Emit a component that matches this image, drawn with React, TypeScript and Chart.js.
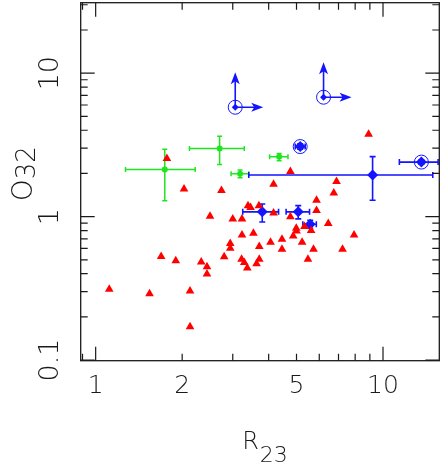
import React, { useEffect, useRef } from "react";
import { Chart, registerables } from "chart.js";

Chart.register(...registerables);

// ---------- axis setup ----------
const X_MIN = 0.887;
const X_MAX = 15.7;
const Y_MIN = 0.099;
const Y_MAX = 31;

const xTickValues = [1, 2, 5, 10];
const xTickLabels = ["1", "2", "5", "10"];
const xMajorTicks = [1, 10];
const xMinorTicks = [0.9, 2, 3, 4, 5, 6, 7, 8, 9];

const yTickValues = [0.1, 1, 10];
const yTickLabels = ["0.1", "1", "10"];
const yMajorTicks = [0.1, 1, 10];
const yMinorTicks = [0.2, 0.3, 0.4, 0.5, 0.6, 0.7, 0.8, 0.9, 2, 3, 4, 5, 6, 7, 8, 9, 20, 30];

const xTitleMain = "R";
const xTitleSub = "23";
const yTitleMain = "O";
const yTitleSub = "32";

// ---------- data ----------
// red triangles
const redR23 = [8.91, 1.77, 4.76, 6.89, 4.16, 2.03, 2.74, 6.74, 5.87, 3.39, 3.46, 3.70, 5.87, 4.16, 2.50, 4.76, 3.00, 3.23, 6.45, 4.99, 5.00, 5.62, 5.33, 4.87, 5.23, 4.45, 4.06, 3.71, 3.54, 3.23, 2.94, 2.94, 2.80, 3.22, 3.29, 3.37, 3.63, 3.71, 2.33, 2.44, 2.44, 2.13, 2.13, 1.69, 1.90, 1.115, 1.54, 4.45, 5.73, 7.23, 7.93, 5.48];
const redO32 = [3.75, 2.54, 2.06, 1.76, 1.68, 1.56, 1.52, 1.46, 1.30, 1.19, 1.16, 1.19, 1.105, 1.06, 1.006, 1.0, 0.961, 0.961, 0.897, 0.831, 0.795, 0.801, 0.852, 0.734, 0.663, 0.696, 0.664, 0.620, 0.766, 0.746, 0.650, 0.602, 0.526, 0.505, 0.479, 0.439, 0.469, 0.505, 0.482, 0.447, 0.398, 0.303, 0.171, 0.528, 0.493, 0.312, 0.290, 0.592, 0.592, 0.592, 0.746, 0.505];

// green points with error bars
const greenR23 = [1.74, 2.70, 3.18, 4.35];
const greenR23Lo = [1.27, 2.12, 2.96, 4.03];
const greenR23Hi = [2.22, 3.29, 3.41, 4.67];
const greenO32 = [2.13, 2.98, 1.99, 2.61];
const greenO32Lo = [1.29, 2.31, 1.87, 2.45];
const greenO32Hi = [2.95, 3.64, 2.11, 2.75];

// blue diamonds with error bars
const blueR23 = [9.20, 13.6, 5.15, 3.80, 5.07, 5.58];
const blueR23Lo = [3.41, 11.4, 4.95, 3.25, 4.60, 5.26];
const blueR23Hi = [14.9, 15.55, 5.36, 4.33, 5.55, 5.86];
const blueO32 = [1.95, 2.40, 3.08, 1.08, 1.08, 0.885];
const blueO32Lo = [1.30, 2.32, 2.95, 0.918, 0.964, 0.83];
const blueO32Hi = [2.62, 2.48, 3.22, 1.226, 1.193, 0.944];

// circled objects
const circledR23 = [13.6, 5.15, 3.06, 6.21];
const circledO32 = [2.40, 3.08, 5.79, 6.80];

// lower limits (arrows up and right)
const limitR23 = [3.06, 6.21];
const limitO32 = [5.79, 6.80];

// ---------- styles ----------
const RED = "#ff0000";
const GREEN = "#1ee61e";
const BLUE = "#1414ff";
const INK = "#1a1a1a";
const FONT = "'DejaVu Sans', 'Liberation Sans', sans-serif";

const toPts = (xs: number[], ys: number[]) => xs.map((v, i) => ({ x: v, y: ys[i] }));

function drawErrorBars(
  chart: any,
  xs: number[], ys: number[],
  xlo: number[], xhi: number[], ylo: number[], yhi: number[],
  color: string, lw: number, cap: number
) {
  const { ctx, scales, chartArea } = chart;
  const sx = scales.x, sy = scales.y;
  ctx.save();
  ctx.beginPath();
  ctx.rect(chartArea.left, chartArea.top, chartArea.right - chartArea.left, chartArea.bottom - chartArea.top);
  ctx.clip();
  ctx.strokeStyle = color;
  ctx.lineWidth = lw;
  ctx.beginPath();
  for (let i = 0; i < xs.length; i++) {
    const cx = sx.getPixelForValue(xs[i]);
    const cy = sy.getPixelForValue(ys[i]);
    const l = sx.getPixelForValue(xlo[i]);
    const r = sx.getPixelForValue(xhi[i]);
    const t = sy.getPixelForValue(yhi[i]);
    const b = sy.getPixelForValue(ylo[i]);
    ctx.moveTo(l, cy); ctx.lineTo(r, cy);
    ctx.moveTo(l, cy - cap); ctx.lineTo(l, cy + cap);
    ctx.moveTo(r, cy - cap); ctx.lineTo(r, cy + cap);
    ctx.moveTo(cx, t); ctx.lineTo(cx, b);
    ctx.moveTo(cx - cap, t); ctx.lineTo(cx + cap, t);
    ctx.moveTo(cx - cap, b); ctx.lineTo(cx + cap, b);
  }
  ctx.stroke();
  ctx.restore();
}

function arrowHead(ctx: any, tx: number, ty: number, dx: number, dy: number, len: number, half: number, notch: number) {
  const px = -dy, py = dx;
  const bx = tx - dx * len, by = ty - dy * len;
  ctx.beginPath();
  ctx.moveTo(tx, ty);
  ctx.lineTo(bx + px * half, by + py * half);
  ctx.lineTo(tx - dx * (len - notch), ty - dy * (len - notch));
  ctx.lineTo(bx - px * half, by - py * half);
  ctx.closePath();
  ctx.fill();
}

const errorBarPlugin = {
  id: "errorBars",
  beforeDatasetsDraw(chart: any) {
    drawErrorBars(chart, greenR23, greenO32, greenR23Lo, greenR23Hi, greenO32Lo, greenO32Hi, GREEN, 1.5, 2.5);
    drawErrorBars(chart, blueR23, blueO32, blueR23Lo, blueR23Hi, blueO32Lo, blueO32Hi, BLUE, 1.6, 3);
  },
};

const arrowPlugin = {
  id: "limitArrows",
  afterDatasetsDraw(chart: any) {
    const { ctx, scales } = chart;
    ctx.save();
    ctx.strokeStyle = BLUE;
    ctx.fillStyle = BLUE;
    ctx.lineWidth = 1.6;
    for (let i = 0; i < limitR23.length; i++) {
      const cx = scales.x.getPixelForValue(limitR23[i]);
      const cy = scales.y.getPixelForValue(limitO32[i]);
      const up = 35, right = 28;
      ctx.beginPath();
      ctx.moveTo(cx, cy); ctx.lineTo(cx, cy - up + 6);
      ctx.moveTo(cx, cy); ctx.lineTo(cx + right - 6, cy);
      ctx.stroke();
      arrowHead(ctx, cx, cy - up, 0, -1, 12, 4.5, 3);
      arrowHead(ctx, cx + right, cy, 1, 0, 12, 4.5, 3);
    }
    ctx.restore();
  },
};

const framePlugin = {
  id: "frameTicks",
  afterDatasetsDraw(chart: any) {
    const { ctx, chartArea: ca, scales } = chart;
    const sx = scales.x, sy = scales.y;
    ctx.save();
    ctx.strokeStyle = INK;
    ctx.lineWidth = 1.3;
    ctx.strokeRect(ca.left, ca.top, ca.right - ca.left, ca.bottom - ca.top);
    ctx.lineWidth = 1.2;
    ctx.beginPath();
    const xt = (v: number, len: number) => {
      const p = sx.getPixelForValue(v);
      if (p < ca.left || p > ca.right) return;
      ctx.moveTo(p, ca.bottom); ctx.lineTo(p, ca.bottom - len);
      ctx.moveTo(p, ca.top); ctx.lineTo(p, ca.top + len);
    };
    const yt = (v: number, len: number) => {
      const p = sy.getPixelForValue(v);
      if (p < ca.top - 0.5 || p > ca.bottom + 0.5) return;
      ctx.moveTo(ca.left, p); ctx.lineTo(ca.left + len, p);
      ctx.moveTo(ca.right, p); ctx.lineTo(ca.right - len, p);
    };
    xMajorTicks.forEach((v) => xt(v, 14));
    xMinorTicks.forEach((v) => xt(v, 7));
    yMajorTicks.forEach((v) => yt(v, 14));
    yMinorTicks.forEach((v) => yt(v, 7));
    ctx.stroke();
    ctx.restore();
  },
};

const titlePlugin = {
  id: "axisTitles",
  afterDraw(chart: any) {
    const { ctx, chartArea: ca } = chart;
    ctx.save();
    ctx.fillStyle = INK;
    ctx.textBaseline = "alphabetic";
    ctx.textAlign = "left";
    // x title: R with subscript 23
    ctx.font = `200 24px ${FONT}`;
    const wMain = ctx.measureText(xTitleMain).width;
    ctx.font = `200 22px ${FONT}`;
    const wSub = ctx.measureText(xTitleSub).width;
    const cxT = (ca.left + ca.right) / 2 + 5;
    const x0 = cxT - (wMain + wSub + 1) / 2;
    ctx.font = `200 24px ${FONT}`;
    ctx.fillText(xTitleMain, x0, ca.bottom + 88);
    ctx.font = `200 22px ${FONT}`;
    ctx.fillText(xTitleSub, x0 + wMain + 1, ca.bottom + 101);
    // y title: O with subscript 32, rotated
    ctx.font = `200 28px ${FONT}`;
    const wm = ctx.measureText(yTitleMain).width;
    ctx.font = `200 26px ${FONT}`;
    const ws = ctx.measureText(yTitleSub).width;
    const cyT = (ca.top + ca.bottom) / 2 - 8;
    ctx.translate(32, cyT + (wm + ws) / 2);
    ctx.rotate(-Math.PI / 2);
    ctx.font = `200 28px ${FONT}`;
    ctx.fillText(yTitleMain, 0, 0);
    ctx.font = `200 26px ${FONT}`;
    ctx.fillText(yTitleSub, wm, 3);
    ctx.restore();
  },
};

export default function App() {
  const ref = useRef<HTMLCanvasElement | null>(null);

  useEffect(() => {
    if (!ref.current) return;
    const chart = new Chart(ref.current, {
      type: "scatter",
      data: {
        datasets: [
          {
            label: "triangles",
            data: toPts(redR23, redO32),
            pointStyle: "triangle",
            radius: 5,
            backgroundColor: RED,
            borderColor: RED,
            borderWidth: 0,
          },
          {
            label: "green",
            data: toPts(greenR23, greenO32),
            pointStyle: "circle",
            radius: 3,
            backgroundColor: GREEN,
            borderColor: GREEN,
            borderWidth: 0,
          },
          {
            label: "blue",
            data: toPts(blueR23, blueO32),
            pointStyle: "rectRot",
            radius: 5.5,
            backgroundColor: BLUE,
            borderColor: BLUE,
            borderWidth: 0,
          },
          {
            label: "limits",
            data: toPts(limitR23, limitO32),
            pointStyle: "rectRot",
            radius: 3.5,
            backgroundColor: BLUE,
            borderColor: BLUE,
            borderWidth: 0,
          },
          {
            label: "circled",
            data: toPts(circledR23, circledO32),
            pointStyle: "circle",
            radius: 7,
            backgroundColor: "rgba(0,0,0,0)",
            borderColor: BLUE,
            borderWidth: 1,
          },
        ],
      },
      options: {
        animation: false,
        responsive: true,
        maintainAspectRatio: false,
        events: [],
        layout: { autoPadding: false, padding: { top: 2.7, right: 2.7, left: 0, bottom: 0 } },
        plugins: { legend: { display: false }, tooltip: { enabled: false } },
        scales: {
          x: {
            type: "logarithmic",
            min: X_MIN,
            max: X_MAX,
            afterBuildTicks: (s: any) => {
              s.ticks = xTickValues.map((v) => ({ value: v }));
            },
            afterFit: (s: any) => {
              s.height = 102.3;
              s.paddingLeft = 0;
              s.paddingRight = 0;
            },
            grid: { display: false, drawTicks: false },
            border: { display: false },
            ticks: {
              autoSkip: false,
              maxRotation: 0,
              padding: 11,
              color: INK,
              font: { family: FONT, size: 25, weight: "200" as any },
              callback: (v: any) => {
                const i = xTickValues.indexOf(Number(v));
                return i >= 0 ? xTickLabels[i] : "";
              },
            },
          },
          y: {
            type: "logarithmic",
            min: Y_MIN,
            max: Y_MAX,
            afterBuildTicks: (s: any) => {
              s.ticks = yTickValues.map((v) => ({ value: v }));
            },
            afterFit: (s: any) => {
              s.width = 80.7;
              s.paddingTop = 0;
              s.paddingBottom = 0;
            },
            grid: { display: false, drawTicks: false },
            border: { display: false },
            ticks: {
              autoSkip: false,
              minRotation: 90,
              maxRotation: 90,
              crossAlign: "center",
              padding: 8,
              color: INK,
              font: { family: FONT, size: 27, weight: "200" as any },
              callback: (v: any) => {
                const i = yTickValues.indexOf(Number(v));
                return i >= 0 ? yTickLabels[i] : "";
              },
            },
          },
        },
      },
      plugins: [errorBarPlugin, arrowPlugin, framePlugin, titlePlugin],
    });
    return () => chart.destroy();
  }, []);

  return (
    <div style={{ position: "absolute", left: 0, top: 0, width: 442, height: 463, background: "#fff" }}>
      <canvas ref={ref} />
    </div>
  );
}
